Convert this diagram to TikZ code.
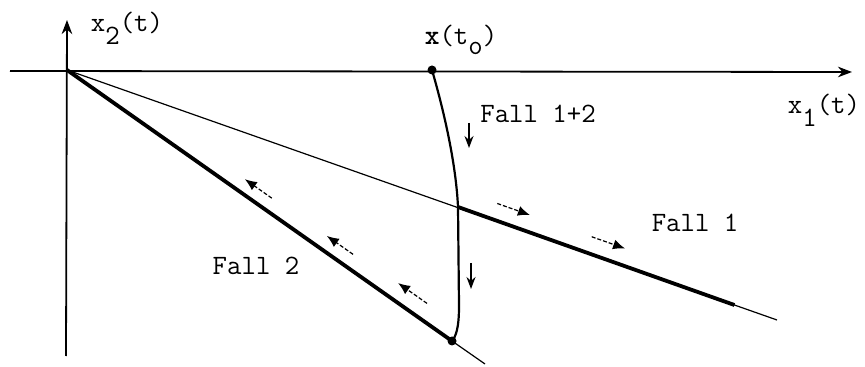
\documentclass[tikz,border=0pt]{standalone}
\usetikzlibrary{arrows.meta,calc}
\begin{document}
\begin{tikzpicture}[x=0.5pt,y=-0.5pt,font=\fontsize{14}{16}\selectfont\ttfamily,>=Stealth,
  axis/.style={line width=0.9pt,->},
  guide/.style={line width=0.6pt},
  traj/.style={line width=1.9pt},
  orbit/.style={line width=1.1pt},
  flow/.style={line width=0.6pt,dash pattern=on 2pt off 1pt,-{Latex[length=6pt,width=5pt]}},
  drop/.style={line width=0.7pt,-{Stealth[length=6pt,width=4.5pt]}},
  dot/.style={circle,fill,inner sep=0pt,minimum size=4.5pt},
  lbl/.style={inner sep=0pt}]
  \useasboundingbox (0,0) rectangle (865,367);
  % ---- axes ----
  \coordinate (O) at (67,70);
  \coordinate (xl) at (10,71);
  \coordinate (xr) at (852,72);
  \coordinate (yb) at (66,356);
  \coordinate (yt) at (67,20);
  \draw[axis] (xl) -- (xr);
  \draw[axis] (yb) -- (yt);
  \node[lbl] (x1lbl) at (824,110) {x\raisebox{-1.1ex}{1}(t)};
  \node[lbl] (x2lbl) at (127,28) {x\raisebox{-1.1ex}{2}(t)};
  % ---- start point and curve ----
  \node[dot] (x0) at (432,70) {};
  \node[lbl] (x0lbl) at (461,40) {\textbf{x}(t\raisebox{-0.8ex}{o})};
  \coordinate (P1) at (458,207);
  \coordinate (kink) at (459,306);
  \node[dot] (P2) at (452,341) {};
  \draw[orbit] (x0.center) .. controls (445,115) and (456,165) .. (P1) -- (kink)
     .. controls (459,328) and (456,336) .. (P2.center);
  \coordinate (d1a) at (469,123); \coordinate (d1b) at (469,148);
  \coordinate (d2a) at (471,263); \coordinate (d2b) at (471,289);
  \draw[drop] (d1a) -- (d1b);
  \draw[drop] (d2a) -- (d2b);
  \node[lbl] (f12) at (538,114) {Fall 1+2};
  % ---- Fall 1 ----
  \coordinate (E1) at (777,320);
  \coordinate (T1) at ($(O)!0.94!(E1)$);
  \draw[guide] (O) -- (E1);
  \draw[traj] (P1) -- (T1);
  \draw[flow] ($(O)!0.606!(E1)+(0,-18)$) -- ($(O)!0.652!(E1)+(0,-18)$);
  \draw[flow] ($(O)!0.739!(E1)+(0,-18)$) -- ($(O)!0.786!(E1)+(0,-18)$);
  \node[lbl] (f1) at (695,223) {Fall 1};
  % ---- Fall 2 ----
  \coordinate (E2) at (485,364);
  \draw[traj] (O) -- (P2.center);
  \draw[guide] (P2.center) -- (E2);
  \draw[flow] ($(O)!0.532!(P2)+(0,-16)$) -- ($(O)!0.462!(P2)+(0,-16)$);
  \draw[flow] ($(O)!0.743!(P2)+(0,-17)$) -- ($(O)!0.675!(P2)+(0,-17)$);
  \draw[flow] ($(O)!0.935!(P2)+(0,-20)$) -- ($(O)!0.860!(P2)+(0,-20)$);
  \node[lbl] (f2) at (256,266) {Fall 2};
\end{tikzpicture}
\end{document}
